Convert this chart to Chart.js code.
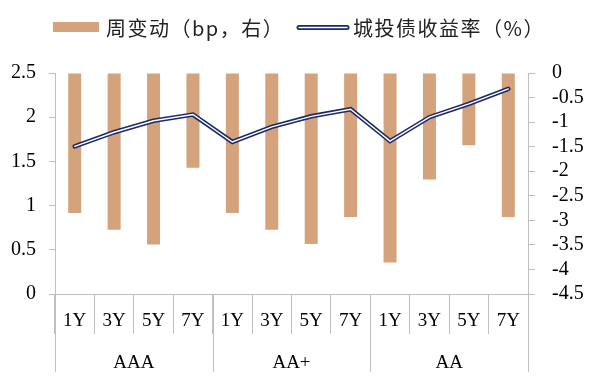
<!DOCTYPE html>
<html>
<head>
<meta charset="utf-8">
<script src="https://cdn.jsdelivr.net/npm/chart.js@4/dist/chart.umd.min.js"></script>
<style>
html,body{margin:0;padding:0;background:#fff;}
#wrap{width:591px;height:381px;}
</style>
</head>
<body>
<div id="wrap"><canvas id="c" width="591" height="381"></canvas></div>
<script>
// ---- data ----
const categories = ['1Y','3Y','5Y','7Y','1Y','3Y','5Y','7Y','1Y','3Y','5Y','7Y'];
const groups = ['AAA','AA+','AA'];
const groupSize = 4;
const weeklyChange = [-2.85,-3.19,-3.49,-1.93,-2.85,-3.19,-3.48,-2.93,-3.86,-2.17,-1.47,-2.93];
const yieldRate = [1.67,1.83,1.96,2.03,1.72,1.89,2.01,2.09,1.73,2.00,2.15,2.32];
const barLabel = '周变动（bp，右）';
const lineLabel = '城投债收益率（%）';
const leftTicks = [0,0.5,1,1.5,2,2.5];
const rightTicks = [-4.5,-4,-3.5,-3,-2.5,-2,-1.5,-1,-0.5,0];

const BAR = '#D4A37B';
const NAVY = '#1C2A66';
const AXIS = '#BFBFBF';
const SERIF = '"Liberation Serif","Times New Roman",serif';
const CJK = '"Noto Sans CJK SC","Noto Sans",sans-serif';

const groupPlugin = {
  id: 'groups',
  afterDraw(chart) {
    const ctx = chart.ctx;
    const x = chart.scales.x;
    const area = chart.chartArea;
    const step = (area.right - area.left) / categories.length;
    ctx.save();
    ctx.strokeStyle = AXIS;
    ctx.lineWidth = 1;
    for (let g = 0; g <= groups.length; g++) {
      const xi = Math.round(area.left + g * groupSize * step) + 0.5;
      ctx.beginPath();
      ctx.moveTo(xi, area.bottom);
      ctx.lineTo(xi, area.bottom + 78);
      ctx.stroke();
    }
    ctx.fillStyle = '#000';
    ctx.font = '19px ' + SERIF;
    ctx.textAlign = 'center';
    ctx.textBaseline = 'middle';
    groups.forEach((g, i) => {
      const a = x.getPixelForValue(i * groupSize);
      const b = x.getPixelForValue(i * groupSize + groupSize - 1);
      ctx.fillText(g, (a + b) / 2, area.bottom + 69);
    });
    ctx.restore();
  }
};

const legendPlugin = {
  id: 'customLegend',
  afterDraw(chart) {
    const ctx = chart.ctx;
    const cy = 27.5;
    ctx.save();
    ctx.font = '20px ' + CJK;
    if ('letterSpacing' in ctx) ctx.letterSpacing = '1.5px';
    ctx.textBaseline = 'middle';
    ctx.textAlign = 'left';
    // bar item
    ctx.fillStyle = BAR;
    ctx.fillRect(53, 22, 46, 10);
    ctx.fillStyle = '#222';
    ctx.fillText(chart.data.datasets[0].label, 106, cy + 1);
    // line item
    ctx.lineCap = 'round';
    ctx.strokeStyle = NAVY;
    ctx.lineWidth = 5;
    ctx.beginPath(); ctx.moveTo(299, cy); ctx.lineTo(347, cy); ctx.stroke();
    ctx.strokeStyle = '#fff';
    ctx.lineWidth = 1.5;
    ctx.beginPath(); ctx.moveTo(299, cy); ctx.lineTo(347, cy); ctx.stroke();
    ctx.fillStyle = '#222';
    ctx.fillText(chart.data.datasets[1].label, 353, cy + 1);
    ctx.restore();
  }
};

const fmt = v => String(Math.round(v * 10) / 10);

new Chart(document.getElementById('c'), {
  data: {
    labels: categories,
    datasets: [
      {
        type: 'bar', label: barLabel, data: weeklyChange, yAxisID: 'y1',
        backgroundColor: BAR, borderWidth: 0, barPercentage: 0.33, categoryPercentage: 1, order: 3
      },
      {
        type: 'line', label: lineLabel, data: yieldRate, yAxisID: 'y',
        borderColor: NAVY, borderWidth: 4.5, pointRadius: 0, tension: 0,
        borderCapStyle: 'round', borderJoinStyle: 'miter', fill: false, order: 2
      },
      {
        type: 'line', label: lineLabel + ' ', data: yieldRate, yAxisID: 'y',
        borderColor: '#ffffff', borderWidth: 1.4, pointRadius: 0, tension: 0,
        borderCapStyle: 'round', fill: false, order: 1
      }
    ]
  },
  options: {
    responsive: false,
    animation: false,
    devicePixelRatio: 1,
    layout: { padding: { top: 73, left: 0, right: 0, bottom: 0 } },
    plugins: { legend: { display: false }, tooltip: { enabled: false } },
    scales: {
      x: {
        type: 'category',
        offset: true,
        grid: { display: true, drawOnChartArea: false, offset: true, tickLength: 40, color: AXIS, lineWidth: 1 },
        border: { display: true, color: AXIS, width: 1 },
        ticks: { color: '#000', font: { family: SERIF, size: 19 }, padding: -24, maxRotation: 0, autoSkip: false },
        afterFit(s) { s.height = 87; }
      },
      y: {
        position: 'left', min: 0, max: 2.5,
        afterBuildTicks(s) { s.ticks = leftTicks.map(v => ({ value: v })); },
        grid: { drawOnChartArea: false, tickLength: 6, color: AXIS },
        border: { display: true, color: AXIS, width: 1 },
        ticks: { color: '#000', font: { family: SERIF, size: 20 }, padding: 13, autoSkip: false, callback: fmt },
        afterFit(s) { s.width = 55; }
      },
      y1: {
        position: 'right', min: -4.5, max: 0,
        afterBuildTicks(s) { s.ticks = rightTicks.map(v => ({ value: v })); },
        grid: { drawOnChartArea: false, tickLength: 7, color: AXIS },
        border: { display: true, color: AXIS, width: 1 },
        ticks: { color: '#000', font: { family: SERIF, size: 20 }, padding: 17, autoSkip: false, callback: fmt },
        afterFit(s) { s.width = 63; }
      }
    }
  },
  plugins: [groupPlugin, legendPlugin]
});
</script>
</body>
</html>
